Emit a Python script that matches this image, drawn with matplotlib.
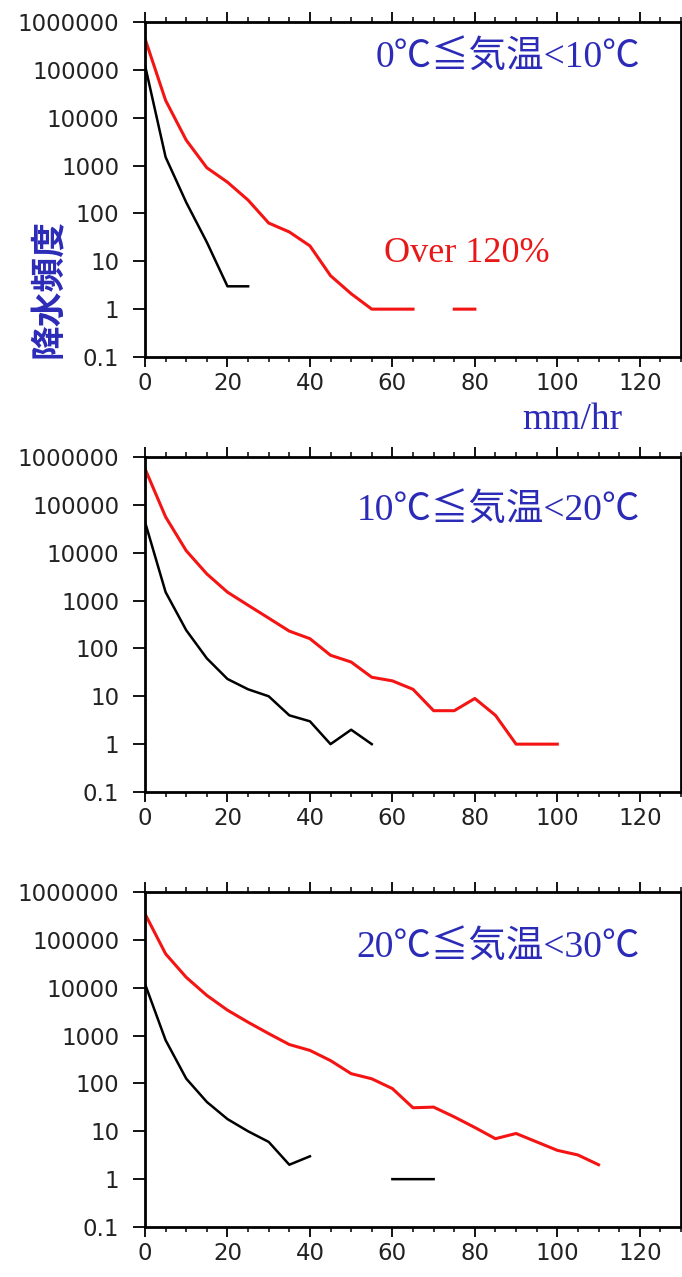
import numpy as np
import matplotlib
matplotlib.use('Agg')
import matplotlib.pyplot as plt
from matplotlib.ticker import MultipleLocator, NullLocator

# precipitation intensity bins (mm/hr) and event counts per temperature class
nan = np.nan

rain_red_1 = [0, 5, 10, 15, 20, 25, 30, 35, 40, 45, 50, 55, 60, 65, 70, 75, 80]
count_red_1 = [4.5e5, 2.3e4, 3400, 900, 450, 190, 63, 41, 21, 5, 2.1, 1, 1, 1, nan, 1, 1]
rain_blk_1 = [0, 5, 10, 15, 20, 25]
count_blk_1 = [1.25e5, 1500, 170, 25, 3, 3]

rain_red_2 = [0, 5, 10, 15, 20, 25, 30, 35, 40, 45, 50, 55, 60, 65, 70, 75, 80, 85, 90, 95, 100]
count_red_2 = [5.7e5, 5.6e4, 1.1e4, 3600, 1500, 800, 430, 230, 160, 72, 52, 25, 21, 14, 5, 5, 9, 4, 1, 1, 1]
rain_blk_2 = [0, 5, 10, 15, 20, 25, 30, 35, 40, 45, 50, 55]
count_blk_2 = [4.4e4, 1500, 240, 62, 23, 14, 10, 4, 3, 1, 2, 1]

rain_red_3 = [0, 5, 10, 15, 20, 25, 30, 35, 40, 45, 50, 55, 60, 65, 70, 75, 80, 85, 90, 95, 100, 105, 110]
count_red_3 = [3.5e5, 5.1e4, 1.65e4, 6900, 3400, 1900, 1100, 650, 490, 300, 160, 125, 78, 31, 32, 20, 12, 7, 9, 6, 4, 3.2, 2]
rain_blk_3 = [0, 5, 10, 15, 20, 25, 30, 35, 40, 45, 50, 55, 60, 65, 70]
count_blk_3 = [1.2e4, 800, 126, 41, 18, 10, 6, 2, 3, nan, nan, nan, 1, 1, 1]

titles = ['0℃≦気温<10℃', '10℃≦気温<20℃', '20℃≦気温<30℃']
title_y = [0.895, 0.84, 0.836]

y_ticks = [0.1, 1, 10, 100, 1000, 10000, 100000, 1000000]
y_labels = ['0.1', '1', '10', '100', '1000', '10000', '100000', '1000000']
x_ticks = [0, 20, 40, 60, 80, 100, 120]

blue = '#2b2bb8'
serif_cjk = ['Liberation Serif', 'Noto Sans CJK JP', 'DejaVu Sans']

panels = [(rain_red_1, count_red_1, rain_blk_1, count_blk_1),
          (rain_red_2, count_red_2, rain_blk_2, count_blk_2),
          (rain_red_3, count_red_3, rain_blk_3, count_blk_3)]
bottoms = [1 - 357 / 1277, 1 - 792 / 1277, 1 - 1227 / 1277]

fig = plt.figure(figsize=(6.82, 12.77), dpi=100)

axes = []
for i, (xr, yr, xb, yb) in enumerate(panels):
    ax = fig.add_axes([145 / 682, bottoms[i], 536 / 682, 335 / 1277])
    ax.plot(xr, yr, color='#f41414', linewidth=2.2)
    ax.plot(xb, yb, color='black', linewidth=1.8)
    ax.set_yscale('log')
    ax.set_ylim(0.1, 1e6)
    ax.set_xlim(0, 130)
    ax.set_yticks(y_ticks)
    ax.set_yticklabels(y_labels)
    ax.yaxis.set_minor_locator(NullLocator())
    ax.set_xticks(x_ticks)
    ax.xaxis.set_minor_locator(MultipleLocator(5))
    for s in ax.spines.values():
        s.set_linewidth(2)
    ax.tick_params(axis='x', which='major', direction='out', top=True,
                   length=7, width=1.3, pad=4, labelsize=16.5,
                   labelcolor='#222222')
    ax.tick_params(axis='x', which='minor', direction='out', top=True,
                   length=3.5, width=1.1)
    ax.tick_params(axis='y', which='major', direction='out', length=8.6,
                   width=1.3, pad=10, labelsize=16.5, labelcolor='#222222')
    ax.text(120, title_y[i], titles[i], transform=ax.get_xaxis_transform(),
            ha='right', va='center', color=blue, fontsize=27, family=serif_cjk)
    axes.append(ax)

axes[0].text(58, 0.31, 'Over 120%', transform=axes[0].get_xaxis_transform(),
             ha='left', va='center', color='#e81818', fontsize=26,
             family='Liberation Serif')

fig.text(48 / 682, 1 - 288 / 1277, '降水頻度', rotation=90, ha='center',
         va='center', color=blue, fontsize=25, weight='bold',
         family=['Noto Sans CJK JP', 'DejaVu Sans'])
fig.text(572 / 682, 1 - 420 / 1277, 'mm/hr', ha='center', va='center',
         color=blue, fontsize=27, family='Liberation Serif')

fig.savefig('out.png', dpi=100)
